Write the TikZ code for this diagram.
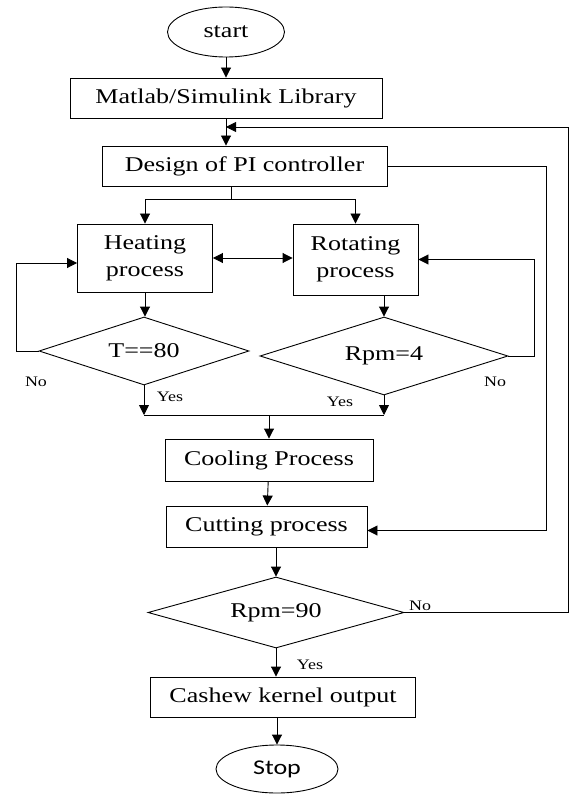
\documentclass[tikz,border=0pt]{standalone}
\usepackage{fontspec}
\setmainfont{Liberation Serif}[FakeStretch=1.24]
\newfontfamily\stopfont{Carlito}[FakeStretch=1.24]
\usetikzlibrary{shapes.geometric,arrows.meta}

\begin{document}
\begin{tikzpicture}[x=1pt,y=-1pt,line width=0.9pt,
  box/.style={draw,rectangle,inner sep=0pt,align=center,font=\fontsize{21}{27}\selectfont},
  term/.style={draw,ellipse,inner sep=0pt,font=\fontsize{21}{27}\selectfont},
  cond/.style={draw,diamond,aspect=3.6,inner sep=0pt,font=\fontsize{21}{27}\selectfont},
  arr/.style={-{Triangle[length=10pt,width=10pt]}},
  lbl/.style={font=\fontsize{14.5}{16}\selectfont}]
\useasboundingbox (0,0) rectangle (573,794);

\node[term,minimum width=117pt,minimum height=50pt] (start) at (226,32) {start};
\node[box,minimum width=312pt,minimum height=40pt] (lib) at (226,98) {Matlab/Simulink Library};
\node[box,minimum width=285pt,minimum height=40pt] (pi) at (244.5,166) {Design of PI controller};
\node[box,minimum width=135pt,minimum height=68pt] (heat) at (145,258) {Heating\\process};
\node[box,minimum width=125pt,minimum height=71pt] (rot) at (355.5,259.5) {Rotating\\process};
\node[cond,minimum width=210pt,minimum height=68pt] (t80) at (144,351) {T==80};
\node[cond,minimum width=248pt,minimum height=78pt] (rpm4) at (384,356) {Rpm=4};
\node[box,minimum width=208pt,minimum height=42pt] (cool) at (269,460) {Cooling Process};
\node[box,minimum width=201pt,minimum height=41pt] (cut) at (266.5,526.5) {Cutting process};
\node[cond,minimum width=256pt,minimum height=71pt] (rpm90) at (276,612.5) {Rpm=90};
\node[box,minimum width=265pt,minimum height=40pt] (out) at (283,697) {Cashew kernel output};
\node[term,font=\stopfont\fontsize{21}{27}\selectfont,minimum width=122pt,minimum height=48pt] (stop) at (277,769) {Stop};

\node[lbl] (no1) at (36,382) {No};
\node[lbl] (no2) at (495,382) {No};
\node[lbl] (no3) at (420,606) {No};
\node[lbl] (yes1) at (170,397) {Yes};
\node[lbl] (yes2) at (340,402) {Yes};
\node[lbl] (yes3) at (310,665) {Yes};

\coordinate (j1) at (226,127);
\coordinate (br) at (231,199);
\coordinate (m1) at (144,415);
\coordinate (m2) at (384,415);

\draw[arr] (start) -- (lib);
\draw[arr] (lib) -- (pi.north -| lib);
\draw[arr] (rpm90.east) -- ++(164,0) |- (j1);% back to the controller
\draw[arr] (pi.east) -- ++(159,0) |- ([yshift=-4pt]cut.east);
\draw (pi.south -| br) -- (br);
\draw[arr] (br) -| (heat.north);
\draw[arr] (br) -| (rot.north);
\draw[{Triangle[length=10pt,width=10pt]}-{Triangle[length=10pt,width=10pt]}] (heat.east) -- (heat.east -| rot.west);
\draw[arr] (heat.south) -- (heat.south |- t80.north);
\draw[arr] (t80.west) -- ++(-22,0) |- ([yshift=-5pt]heat.west);
\draw[arr] (rot.south -| rpm4) -- (rpm4.north);
\draw[arr] (rpm4.east) -- ++(26,0) |- (rot.east);
\draw[arr] (t80.south) -- (m1);
\draw[arr] (rpm4.south) -- (m2);
\draw (m1) -- (m2);
\draw[arr] (m1 -| cool) -- (cool.north);
\draw[arr] (cool) -- (cut);
\draw[arr] (cut.south -| rpm90) -- (rpm90.north);
\draw[arr] (rpm90.south) -- (rpm90.south |- out.north);
\draw[arr] (out.south -| stop) -- (stop.north);

\end{tikzpicture}
\end{document}
